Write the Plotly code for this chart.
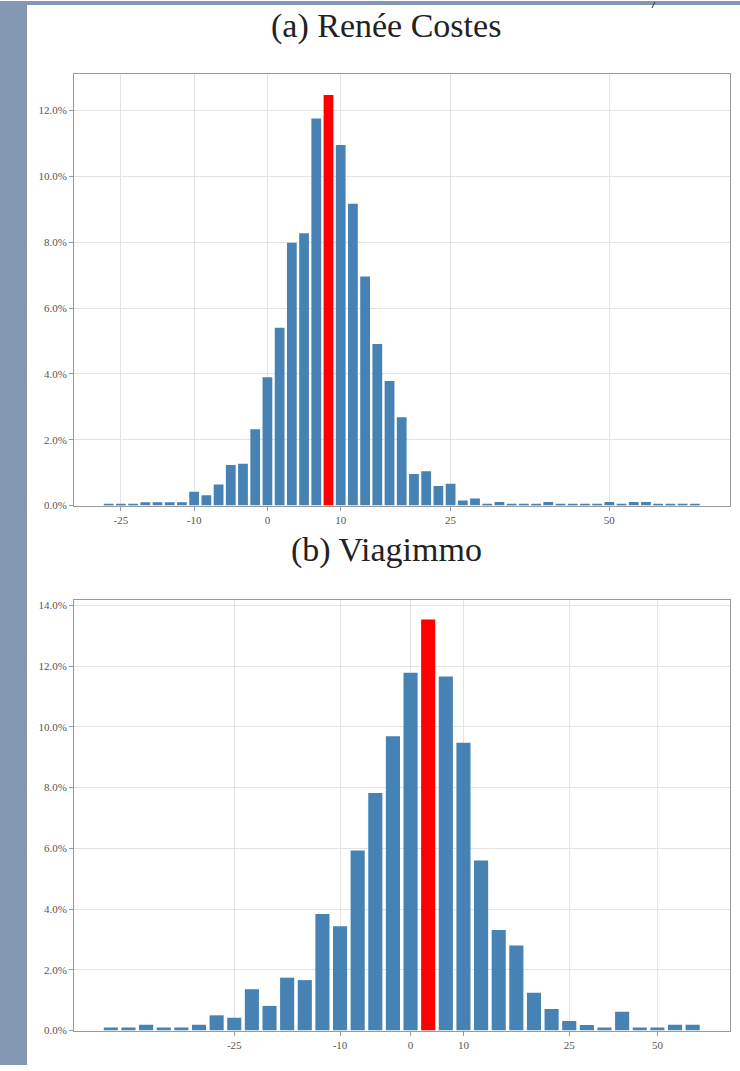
import plotly.graph_objects as go

W, H = 740, 1071
HY = 1064  # effective vertical extent used for placing things on the page

# ---------------- data (percent of observations per bin) ----------------
tick_labels = ["-25", "-10", "0", "10", "25", "50"]

vals_a = [0.05, 0.05, 0.05, 0.10, 0.10, 0.10, 0.10, 0.42, 0.31, 0.64,
          1.23, 1.27, 2.32, 3.90, 5.40, 7.98, 8.27, 11.76, 12.47, 10.95,
          9.17, 6.96, 4.91, 3.78, 2.68, 0.96, 1.04, 0.59, 0.66, 0.15,
          0.21, 0.05, 0.11, 0.05, 0.05, 0.05, 0.11, 0.05, 0.05, 0.05,
          0.05, 0.11, 0.05, 0.11, 0.11, 0.05, 0.05, 0.05, 0.05]
bins_a = list(range(len(vals_a)))
red_a = 18
ticks_a = [1, 7, 13, 19, 28, 41]

vals_b = [0.10, 0.10, 0.19, 0.10, 0.10, 0.19, 0.50, 0.42, 1.36, 0.81,
          1.74, 1.66, 3.84, 3.43, 5.93, 7.82, 9.69, 11.78, 13.54, 11.66,
          9.48, 5.60, 3.31, 2.80, 1.24, 0.71, 0.31, 0.18, 0.10, 0.62,
          0.10, 0.10, 0.19, 0.19]
bins_b = list(range(len(vals_b)))
red_b = 18
ticks_b = [7, 13, 17, 20, 26, 31]

titles = ["(a) Renée Costes", "(b) Viagimmo"]

BLUE = "#4682b4"
RED = "#ff0000"
GRID = "#e3e3e3"
FRAME = "#9a9a9a"
STRIP = "#8497b3"
TICKFONT = dict(family="Liberation Serif, serif", size=11, color="#555555")


def colors(n, red):
    return [RED if i == red else BLUE for i in range(n)]


def py(px):
    return 1 - px / HY


fig = go.Figure()
fig.add_trace(go.Bar(x=bins_a, y=vals_a, marker_color=colors(len(vals_a), red_a),
                     marker_line_width=0, width=0.8, xaxis="x", yaxis="y",
                     showlegend=False))
fig.add_trace(go.Bar(x=bins_b, y=vals_b, marker_color=colors(len(vals_b), red_b),
                     marker_line_width=0, width=0.8, xaxis="x2", yaxis="y2",
                     showlegend=False))


def xax(domain, rng, tickvals, anchor):
    return dict(domain=domain, range=rng, tickvals=tickvals, ticktext=tick_labels,
                showgrid=True, gridcolor=GRID, gridwidth=1, zeroline=False,
                showline=True, mirror=True, linecolor=FRAME, linewidth=1,
                ticks="outside", ticklen=4, tickcolor=FRAME, tickfont=TICKFONT,
                anchor=anchor, fixedrange=True)


def yax(domain, rng, anchor):
    return dict(domain=domain, range=rng, dtick=2, tick0=0, tickformat=".1f",
                ticksuffix="%", showgrid=True, gridcolor=GRID, gridwidth=1,
                zeroline=False, showline=True, mirror=True, linecolor=FRAME,
                linewidth=1, ticks="outside", ticklen=4, tickcolor=FRAME,
                tickfont=TICKFONT, anchor=anchor, fixedrange=True)


xdom = [74 / W, 729.5 / W]
fig.update_layout(
    width=W, height=H,
    margin=dict(l=0, r=0, t=0, b=0),
    paper_bgcolor="white", plot_bgcolor="white",
    xaxis=xax(xdom, [-2.84, 50.84], ticks_a, "y"),
    yaxis=yax([py(504.5), py(72.7)], [0, 13.12], "x"),
    xaxis2=xax(xdom, [-2.09, 35.09], ticks_b, "y2"),
    yaxis2=yax([py(1029.5), py(599)], [0, 14.18], "x2"),
    shapes=[
        dict(type="rect", xref="paper", yref="paper", x0=0, x1=27 / W, y0=0, y1=1,
             fillcolor=STRIP, line_width=0, layer="below"),
        dict(type="rect", xref="paper", yref="paper", x0=0, x1=1, y0=py(4), y1=1,
             fillcolor=STRIP, line_width=0, layer="below"),
        dict(type="line", xref="paper", yref="paper", x0=652 / W, x1=655 / W,
             y0=py(7), y1=py(1), line=dict(color="#333333", width=1)),
    ],
    annotations=[
        dict(text=titles[0], x=386 / W, y=py(25), xref="paper", yref="paper",
             showarrow=False, xanchor="center", yanchor="middle",
             font=dict(family="Liberation Serif, serif", size=34, color="#222222")),
        dict(text=titles[1], x=386 / W, y=py(549), xref="paper", yref="paper",
             showarrow=False, xanchor="center", yanchor="middle",
             font=dict(family="Liberation Serif, serif", size=34, color="#222222")),
    ],
)

post = (
    "var gd=document.getElementById('{plot_id}');"
    "var bg='linear-gradient(to right, " + STRIP + " 27px, #ffffff 27px)';"
    "document.documentElement.style.margin='0px';"
    "document.body.style.margin='0px';"
    "document.documentElement.style.background=bg;"
    "document.body.style.background=bg;"
    "document.documentElement.style.overflow='hidden';"
    "document.body.style.overflow='hidden';"
    "gd.style.position='absolute';gd.style.left='0px';gd.style.top='0px';"
)

fig.write_html("out.html", config={"displayModeBar": False}, post_script=post)
